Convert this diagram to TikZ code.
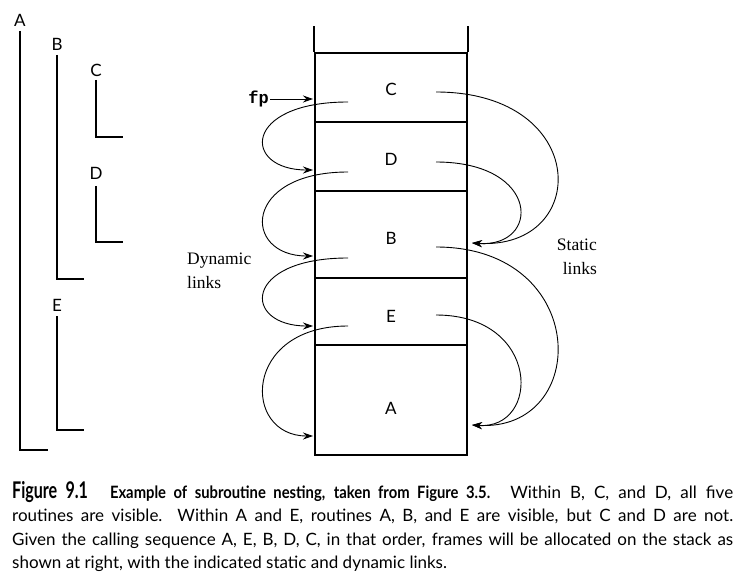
\documentclass[tikz,border=0pt]{standalone}
\usepackage{fontspec}
\setmainfont{Liberation Serif}
\setsansfont{Lato}
\setmonofont{Liberation Mono}
\newfontfamily\capfont{Lato}
\newfontfamily\figfont[FakeStretch=0.7]{Lato}
\newfontfamily\headfont[FakeStretch=0.87]{Lato}
\usetikzlibrary{arrows.meta}

\begin{document}
\begin{tikzpicture}[x=1pt, y=-1pt,
    frame/.style={draw, line width=1.8pt, minimum width=152pt, inner sep=0pt},
    lbl/.style={font=\sffamily\fontsize{17}{20}\selectfont, inner sep=0pt},
    nest/.style={line width=1.2pt},
    link/.style={-{Stealth[length=10pt, width=7pt]}, line width=0.9pt},
    note/.style={font=\fontsize{17.5}{23.5}\selectfont, inner sep=0pt},
    caption/.style={font=\capfont\fontsize{17}{23.5}\selectfont, text width=721pt, align=justify, inner sep=0pt}
]
    \useasboundingbox (0,0) rectangle (747,580);

    % nesting of the routines
    \node[lbl] (nA) at (20,20) {A};
    \node[lbl] (nB) at (57,44) {B};
    \node[lbl] (nC) at (96,70) {C};
    \node[lbl] (nD) at (96,173) {D};
    \node[lbl] (nE) at (57,305) {E};
    \draw[nest] (20,31) |- (48,450);
    \draw[nest] (57,55) |- (84,279);
    \draw[nest] (96,80) |- (123,137);
    \draw[nest] (96,186) |- (123,242);
    \draw[nest] (57,316) |- (84,430);

    % the stack
    \node[frame, minimum height=69pt] (frmC) at (391,87.5) {};
    \node[frame, minimum height=69pt] (frmD) at (391,156.5) {};
    \node[frame, minimum height=87pt] (frmB) at (391,234.5) {};
    \node[frame, minimum height=67pt] (frmE) at (391,311.5) {};
    \node[frame, minimum height=110pt] (frmA) at (391,400) {};
    \draw[line width=1.8pt] (frmC.north west) -- ++(0,-26);
    \draw[line width=1.8pt] (frmC.north east) -- ++(0,-26);
    \node[lbl] (labC) at (391,89) {C};
    \node[lbl] (labD) at (391,159) {D};
    \node[lbl] (labB) at (391,238) {B};
    \node[lbl] (labE) at (391,316) {E};
    \node[lbl] (labA) at (391,408) {A};

    % frame pointer
    \node[font=\ttfamily\bfseries\fontsize{17}{20}\selectfont, anchor=east, inner sep=1pt] (fp) at (270,99) {fp};
    \coordinate (fpC) at (313,99);
    \draw[link] (fp.east) -- (fpC);

    % dynamic links
    \coordinate (dynC) at (348,102);
    \coordinate (dynD) at (348,172);
    \coordinate (dynB) at (348,258);
    \coordinate (dynE) at (348,326);
    \coordinate (fpD) at (313,170);
    \coordinate (fpB) at (313,256);
    \coordinate (fpE) at (313,326);
    \coordinate (fpA) at (313,436);
    \draw[link] (dynC) .. controls (242,102) and (242,170) .. (fpD);
    \draw[link] (dynD) .. controls (242,172) and (242,256) .. (fpB);
    \draw[link] (dynB) .. controls (242,258) and (242,326) .. (fpE);
    \draw[link] (dynE) .. controls (242,326) and (242,436) .. (fpA);
    \node[note, anchor=west, align=left] (dyn) at (187,271) {Dynamic\\links};

    % static links
    \coordinate (stC) at (436,92);
    \coordinate (stD) at (436,162);
    \coordinate (stB) at (436,247);
    \coordinate (stE) at (436,315);
    \coordinate (tgB) at (472,243);
    \coordinate (tgA) at (472,425);
    \draw[link] (stC) .. controls (591,92) and (591,250) .. (tgB);
    \draw[link] (stD) .. controls (541,162) and (541,248) .. (tgB);
    \draw[link] (stB) .. controls (591,247) and (591,432) .. (tgA);
    \draw[link] (stE) .. controls (541,315) and (541,430) .. (tgA);
    \node[note, anchor=east, align=right] (stat) at (597,257) {Static\\links};

    \node[caption, anchor=north west] (cap) at (12,481) {{\figfont\bfseries\fontsize{23}{24}\selectfont Figure 9.1}\hspace{22pt}{\headfont\bfseries Example of subroutine nesting, taken from Figure 3.5.} Within B, C, and D, all five\linebreak routines are visible.\ \ Within A and E, routines A, B, and E are visible, but C and D are not.\linebreak Given the calling sequence A, E, B, D, C, in that order, frames will be allocated on the stack as\linebreak shown at right, with the indicated static and dynamic links.};
\end{tikzpicture}
\end{document}
